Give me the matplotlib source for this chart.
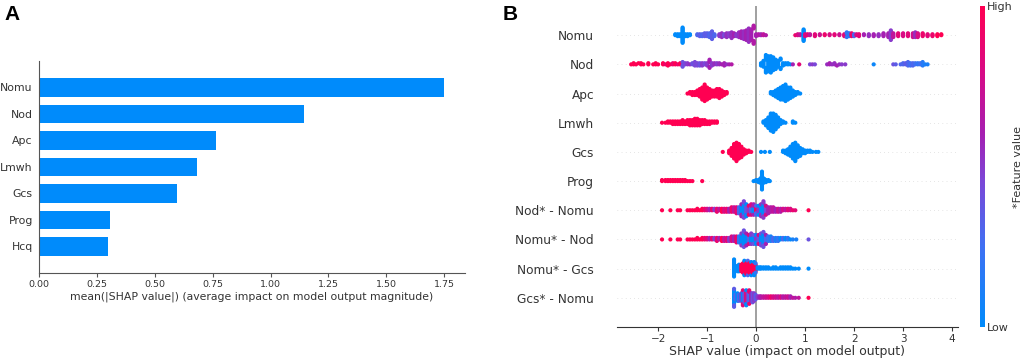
"""Two-panel SHAP summary figure: mean |SHAP| bars (A) and beeswarm (B)."""
import matplotlib
matplotlib.use("Agg")
import matplotlib.pyplot as plt, numpy as np
from matplotlib.colors import LinearSegmentedColormap

# ---- panel A data ----
bar_features = ["Nomu", "Nod", "Apc", "Lmwh", "Gcs", "Prog", "Hcq"]
bar_values = [1.75, 1.146, 0.765, 0.683, 0.598, 0.307, 0.297]

# ---- panel B data: (shap value, number of patients, feature value 0..1) ----
swarm_features = ["Nomu", "Nod", "Apc", "Lmwh", "Gcs", "Prog",
                  "Nod* - Nomu", "Nomu* - Nod", "Nomu* - Gcs", "Gcs* - Nomu"]

nomu_pts = [(-1.65, 2, 0), (-1.6, 3, 0), (-1.55, 3, 0), (-1.5, 17, 0), (-1.45, 3, 0), (-1.4, 3, 0), (-1.35, 2, 0),
            (-1.2, 2, .3), (-1.15, 3, .35), (-1.1, 3, .3), (-1.05, 4, .35), (-1.0, 4, .35), (-0.95, 5, .3),
            (-0.9, 9, .35), (-0.85, 3, .3),
            (-0.75, 3, .5), (-0.7, 2, .55), (-0.65, 3, .45), (-0.6, 5, .55), (-0.55, 4, .5), (-0.5, 7, .55),
            (-0.45, 4, .6), (-0.4, 3, .5), (-0.35, 6, .55), (-0.3, 8, .6), (-0.25, 9, .55), (-0.2, 11, .6),
            (-0.15, 15, .55), (-0.1, 12, .6), (-0.05, 8, .65), (0.0, 3, .6), (0.05, 2, .65), (0.1, 2, .6),
            (0.15, 2, .7), (0.2, 1, .65),
            (0.8, 1, .9), (0.85, 2, .8), (0.9, 2, .7), (0.97, 13, 0), (1.0, 3, .8), (1.05, 2, .85), (1.1, 2, .7),
            (1.2, 3, .85), (1.3, 2, .75), (1.4, 2, .9), (1.5, 2, .8), (1.6, 2, .85), (1.7, 2, .75), (1.8, 3, .85),
            (1.85, 3, .2), (1.9, 4, .15), (1.95, 4, .9), (2.0, 3, .3), (2.05, 2, .8), (2.1, 3, .85), (2.2, 2, .6),
            (2.3, 3, .55), (2.4, 3, .6), (2.5, 3, .55), (2.6, 4, .6), (2.7, 5, .6), (2.75, 11, .5), (2.8, 5, .7),
            (2.9, 4, .85), (3.0, 4, .8), (3.1, 4, .85), (3.2, 5, .75), (3.25, 6, .55), (3.3, 5, .8), (3.4, 4, .9),
            (3.5, 3, .85), (3.6, 3, .9), (3.7, 3, 1), (3.78, 2, 1)]

nod_pts = [(-2.55, 1, 1), (-2.5, 2, 1), (-2.45, 1, 1), (-2.4, 1, 1), (-2.35, 2, 1), (-2.3, 1, 1), (-2.2, 2, 1),
           (-2.1, 1, 1), (-2.05, 2, 1), (-2.0, 1, 1), (-1.9, 2, 1), (-1.85, 1, .9), (-1.8, 2, 1), (-1.75, 1, 1),
           (-1.7, 2, .9), (-1.65, 2, 1), (-1.6, 1, .9), (-1.55, 2, 1),
           (-1.5, 3, .4), (-1.45, 2, .45), (-1.4, 2, .5), (-1.35, 1, .55), (-1.3, 2, .4), (-1.25, 2, .45),
           (-1.2, 3, .45), (-1.15, 3, .4), (-1.1, 3, .5), (-1.05, 2, .45), (-1.0, 3, .5), (-0.95, 5, .6),
           (-0.9, 3, .5), (-0.85, 2, .55), (-0.8, 2, .5), (-0.75, 2, .55), (-0.7, 1, .6), (-0.65, 2, .6),
           (-0.6, 1, .55), (-0.55, 1, .6), (-0.5, 1, .65),
           (0.1, 3, 0), (0.15, 6, 0), (0.2, 10, 0), (0.25, 14, 0), (0.3, 15, 0), (0.35, 12, 0), (0.4, 9, 0),
           (0.45, 6, 0), (0.5, 4, 0), (0.55, 3, 0), (0.6, 2, 0), (0.65, 2, 0), (0.7, 1, 0), (0.75, 1, .6),
           (0.88, 1, .85), (1.1, 1, .45), (1.15, 1, .5), (1.2, 1, .45), (1.45, 1, .55), (1.5, 2, .6),
           (1.55, 1, .55), (1.6, 2, .55), (1.65, 1, .6), (1.7, 1, .55), (1.75, 1, .5), (1.82, 1, .5),
           (2.4, 1, .05), (2.8, 1, .4), (2.85, 1, .35), (2.95, 1, .3), (3.0, 2, .3), (3.05, 2, .35), (3.1, 2, .3),
           (3.15, 3, .25), (3.2, 3, .3), (3.25, 2, .25), (3.3, 2, .2), (3.35, 2, .25), (3.4, 2, .15),
           (3.45, 1, .1), (3.5, 1, .1)]

apc_pts = [(-1.4, 1, 1), (-1.35, 2, 1), (-1.3, 3, 1), (-1.25, 3, 1), (-1.2, 4, 1), (-1.15, 6, 1), (-1.1, 9, 1),
           (-1.05, 12, 1), (-1.0, 9, 1), (-0.95, 7, 1), (-0.9, 5, 1), (-0.85, 5, 1), (-0.8, 6, 1), (-0.75, 7, 1),
           (-0.7, 5, 1), (-0.65, 3, 1), (-0.6, 2, 1),
           (0.3, 2, 0), (0.35, 3, 0), (0.4, 5, 0), (0.45, 7, 0), (0.5, 9, 0), (0.55, 10, 0), (0.6, 12, 0),
           (0.65, 9, 0), (0.7, 8, 0), (0.75, 5, 0), (0.8, 3, 0), (0.85, 2, 0), (0.9, 1, 0)]

lmwh_pts = [(-1.92, 1, 1), (-1.85, 1, 1), (-1.8, 2, 1), (-1.75, 2, 1), (-1.7, 3, 1), (-1.65, 3, 1), (-1.6, 3, 1),
            (-1.55, 3, 1), (-1.5, 4, 1), (-1.45, 3, 1), (-1.4, 4, 1), (-1.35, 5, 1), (-1.3, 5, 1), (-1.25, 6, 1),
            (-1.2, 6, 1), (-1.15, 5, 1), (-1.1, 4, 1), (-1.05, 4, 1), (-1.0, 3, 1), (-0.95, 3, 1), (-0.9, 2, 1),
            (-0.85, 2, 1), (-0.8, 2, 1),
            (0.15, 2, 0), (0.2, 5, 0), (0.25, 9, 0), (0.3, 14, 0), (0.35, 15, 0), (0.4, 12, 0), (0.45, 8, 0),
            (0.5, 4, 0), (0.55, 2, 0), (0.6, 1, 0), (0.75, 2, 0), (0.8, 1, 0)]

gcs_pts = [(-0.68, 1, 1), (-0.55, 3, 1), (-0.5, 7, 1), (-0.45, 12, 1), (-0.4, 15, 1), (-0.35, 12, 1),
           (-0.3, 9, 1), (-0.25, 5, 1), (-0.2, 3, 1), (-0.15, 2, 1), (-0.1, 1, 1),
           (0.1, 1, 0), (0.18, 1, 0), (0.28, 1, 0), (0.55, 2, 0), (0.6, 3, 0), (0.65, 5, 0), (0.7, 8, 0),
           (0.75, 12, 0), (0.8, 15, 0), (0.85, 10, 0), (0.9, 7, 0), (0.95, 4, 0), (1.0, 3, 0), (1.05, 2, 0),
           (1.1, 2, 0), (1.15, 1, 0), (1.22, 1, 0), (1.27, 1, 0)]

prog_pts = [(-1.92, 2, 1), (-1.85, 2, 1), (-1.8, 2, 1), (-1.75, 2, 1), (-1.7, 2, 1), (-1.65, 2, 1), (-1.6, 2, 1),
            (-1.55, 2, 1), (-1.5, 2, 1), (-1.45, 2, 1), (-1.4, 1, 1), (-1.35, 1, 1), (-1.3, 1, 1), (-1.1, 1, 1),
            (-0.05, 1, 0), (0.0, 2, 0), (0.05, 3, 0), (0.08, 4, 0), (0.1, 6, 0), (0.12, 18, 0), (0.14, 6, 0),
            (0.17, 4, 0), (0.2, 3, 0), (0.25, 2, 0), (0.28, 1, 0)]

nod_nomu_pts = [(-1.92, 1, 1), (-1.75, 1, 1), (-1.6, 1, 1), (-1.55, 1, 1), (-1.4, 1, 1), (-1.35, 1, 1),
                (-1.3, 1, 1), (-1.25, 1, 1), (-1.2, 2, 1), (-1.15, 1, 1), (-1.1, 2, 1), (-1.05, 2, .9),
                (-1.0, 2, .8), (-0.95, 2, .6), (-0.9, 2, .9), (-0.85, 2, .5), (-0.8, 3, .9), (-0.75, 2, .7),
                (-0.7, 3, 1), (-0.65, 3, .8), (-0.6, 3, .9), (-0.55, 3, .6), (-0.5, 4, .9), (-0.45, 4, .7),
                (-0.4, 5, .85), (-0.35, 5, .3), (-0.3, 6, 0), (-0.3, 3, .6), (-0.25, 8, 0), (-0.25, 4, .45),
                (-0.2, 6, .4), (-0.2, 3, 0), (-0.15, 5, .5), (-0.15, 2, .9), (-0.1, 5, .3), (-0.1, 3, .8),
                (-0.05, 5, 0), (-0.05, 3, .6), (0.0, 4, .9), (0.0, 3, .3), (0.05, 5, .5), (0.05, 2, 0),
                (0.1, 6, 0), (0.1, 3, .55), (0.15, 8, 0), (0.15, 4, .5), (0.2, 5, .45), (0.2, 2, .8),
                (0.25, 5, .6), (0.3, 4, .65), (0.35, 4, .7), (0.4, 3, .6), (0.45, 3, .75), (0.5, 3, .65),
                (0.55, 2, .8), (0.6, 2, .7), (0.65, 2, .85), (0.7, 2, .8), (0.75, 1, .9), (0.8, 1, .85),
                (1.07, 1, 1)]

nomu_nod_pts = [(-1.92, 1, 1), (-1.75, 1, 1), (-1.6, 1, 1), (-1.55, 1, 1), (-1.4, 1, 1), (-1.35, 1, 1),
                (-1.3, 1, 1), (-1.25, 1, 1), (-1.2, 2, 1), (-1.15, 1, 1), (-1.1, 2, 1), (-1.05, 2, .9),
                (-1.0, 2, .85), (-0.95, 2, .6), (-0.9, 2, .9), (-0.85, 2, .5), (-0.8, 3, .9), (-0.75, 2, .6),
                (-0.7, 3, 1), (-0.65, 3, .7), (-0.6, 3, .85), (-0.55, 3, .5), (-0.5, 4, .8), (-0.45, 4, .6),
                (-0.4, 5, .9), (-0.35, 5, .2), (-0.3, 7, 0), (-0.3, 2, .5), (-0.25, 9, 0), (-0.25, 3, .4),
                (-0.2, 7, 0), (-0.2, 2, .6), (-0.15, 5, .3), (-0.15, 2, .8), (-0.1, 5, 0), (-0.1, 3, .5),
                (-0.05, 5, 0), (-0.05, 2, .4), (0.0, 4, .5), (0.0, 3, 0), (0.05, 5, .4), (0.05, 2, .8),
                (0.1, 6, 0), (0.1, 3, .45), (0.15, 8, 0), (0.15, 3, .4), (0.2, 5, .3), (0.2, 2, .6),
                (0.25, 4, .2), (0.3, 4, .1), (0.35, 3, .3), (0.4, 3, .1), (0.45, 3, .2), (0.5, 2, 0),
                (0.55, 2, .3), (0.6, 2, 0), (0.65, 2, .2), (0.7, 1, 0), (0.75, 1, .1), (0.82, 1, .1),
                (1.07, 1, .4)]

nomu_gcs_pts = [(-0.45, 14, 0), (-0.42, 4, 0), (-0.38, 5, 0), (-0.35, 6, 0), (-0.32, 4, 0), (-0.3, 6, 1),
                (-0.27, 8, 1), (-0.24, 10, 1), (-0.24, 2, 0), (-0.2, 9, 1), (-0.17, 10, 1), (-0.17, 2, .3),
                (-0.14, 8, 1), (-0.1, 9, 1), (-0.1, 2, 0), (-0.07, 7, 1), (-0.04, 8, 1), (-0.04, 3, 0),
                (-0.01, 6, 1), (-0.01, 2, .2), (0.03, 2, 0), (0.07, 2, 0), (0.1, 2, 0), (0.15, 2, 0),
                (0.2, 2, 0), (0.25, 2, 0), (0.3, 1, 0), (0.35, 2, 0), (0.4, 2, 0), (0.45, 1, 0), (0.5, 2, 0),
                (0.55, 2, 0), (0.6, 2, 0), (0.65, 2, 0), (0.7, 2, 0), (0.75, 1, 0), (0.8, 1, 0), (0.87, 1, 0),
                (1.07, 1, 0)]

gcs_nomu_pts = [(-0.45, 10, 0), (-0.45, 3, .35), (-0.42, 4, .3), (-0.38, 6, 0), (-0.35, 5, .35),
                (-0.32, 4, 0), (-0.3, 6, .5), (-0.27, 8, 0), (-0.27, 3, .85), (-0.24, 7, .4), (-0.2, 8, .9),
                (-0.2, 3, 0), (-0.17, 6, .5), (-0.14, 7, .3), (-0.14, 3, .9), (-0.1, 6, .6), (-0.07, 7, .4),
                (-0.04, 6, .5), (-0.01, 4, .35), (0.03, 2, .5), (0.07, 2, .6), (0.1, 2, .65), (0.15, 2, .7),
                (0.2, 2, .75), (0.25, 2, .8), (0.3, 2, .9), (0.35, 2, .8), (0.4, 2, .75), (0.45, 2, .7),
                (0.5, 2, .8), (0.55, 2, .65), (0.6, 2, .7), (0.65, 2, .75), (0.7, 2, .6), (0.75, 1, .7),
                (0.8, 1, .65), (0.87, 1, .7), (1.07, 1, 1)]

swarm_rows = [nomu_pts, nod_pts, apc_pts, lmwh_pts, gcs_pts, prog_pts,
              nod_nomu_pts, nomu_nod_pts, nomu_gcs_pts, gcs_nomu_pts]

BLUE = "#008bfb"
red_blue = LinearSegmentedColormap.from_list(
    "red_blue", [(0, BLUE), (0.25, "#3f70f3"), (0.45, "#7a48d8"), (0.6, "#a51fb2"),
                 (0.8, "#d90a84"), (1, "#ff0052")])
TXT = "#333333"


def swarm_offsets(shaps, row_height=0.4, nbins=100):
    # same stacking rule as shap's beeswarm
    quant = np.round(nbins * (shaps - shaps.min()) / (shaps.max() - shaps.min() + 1e-8))
    inds = np.argsort(quant, kind="stable")
    ys, layer, last = np.zeros(len(shaps)), 0, -1
    for i in inds:
        if quant[i] != last:
            layer = 0
        ys[i] = np.ceil(layer / 2) * ((layer % 2) * 2 - 1)
        layer += 1
        last = quant[i]
    return ys * 0.9 * (row_height / np.max(ys + 1))


fig = plt.figure(figsize=(10.24, 3.62), dpi=100)

# ---- A ----
axA = fig.add_axes([0.0381, 0.246, 0.416, 0.5855])
ypos = np.arange(len(bar_features))[::-1]
axA.barh(ypos, bar_values, height=0.7, color=BLUE)
axA.set_yticks(ypos); axA.set_yticklabels(bar_features, fontsize=7.8, color=TXT)
axA.set_ylim(-1, len(bar_features)); axA.set_xlim(0, 1.84)
axA.set_xticks(np.arange(0, 1.76, 0.25))
axA.set_xticklabels([f"{v:.2f}" for v in np.arange(0, 1.76, 0.25)], fontsize=6.8, color=TXT)
axA.tick_params(axis="y", length=0, pad=4.5)
axA.tick_params(axis="x", length=3, color="#555555", pad=2)
for s in ["top", "right"]: axA.spines[s].set_visible(False)
for s in ["left", "bottom"]: axA.spines[s].set_color("#555555")
axA.set_xlabel("mean(|SHAP value|) (average impact on model output magnitude)", fontsize=7.8, color=TXT, labelpad=2)

# ---- B ----
axB = fig.add_axes([0.6025, 0.0967, 0.333, 0.8867])
n = len(swarm_features)
axB.axvline(0, color="#999999", lw=1.3, zorder=1)
for k, pts in enumerate(swarm_rows):
    pos = n - 1 - k
    axB.axhline(pos, color="#cccccc", lw=0.5, dashes=(1, 5), zorder=0)
    x = np.repeat([p[0] for p in pts], [p[1] for p in pts]).astype(float)
    c = np.repeat([p[2] for p in pts], [p[1] for p in pts]).astype(float)
    y = pos + swarm_offsets(x)
    axB.scatter(x, y, c=c, cmap=red_blue, vmin=0, vmax=1, s=9, linewidths=0, zorder=3, rasterized=True)
axB.set_yticks(np.arange(n)[::-1]); axB.set_yticklabels(swarm_features, fontsize=8.7, color=TXT)
axB.set_ylim(-1, n); axB.set_xlim(-2.84, 4.12)
axB.set_xticks(range(-2, 5))
axB.set_xticklabels(["\u22122", "\u22121", "0", "1", "2", "3", "4"], fontsize=7.5, color=TXT)
axB.tick_params(axis="y", length=0, pad=16.5)
axB.tick_params(axis="x", length=3, color=TXT, pad=2)
for s in ["top", "right", "left"]: axB.spines[s].set_visible(False)
axB.spines["bottom"].set_color(TXT)
axB.set_xlabel("SHAP value (impact on model output)", fontsize=9, color=TXT, labelpad=1)

# colour bar
cax = fig.add_axes([0.9575, 0.0967, 0.004, 0.8867])
sm = plt.cm.ScalarMappable(cmap=red_blue, norm=plt.Normalize(0, 1))
cb = fig.colorbar(sm, cax=cax, ticks=[0, 1])
cb.set_ticklabels(["Low", "High"], fontsize=8, color=TXT)
cb.ax.tick_params(length=0, pad=2)
cb.outline.set_visible(False)
cb.set_label("*Feature value", fontsize=8, color=TXT, labelpad=0)

fig.text(0.004, 0.985, "A", fontsize=15, fontweight="bold", family="Liberation Sans", va="top")
fig.text(0.491, 0.985, "B", fontsize=15, fontweight="bold", family="Liberation Sans", va="top")

fig.savefig("out.png", dpi=100)
